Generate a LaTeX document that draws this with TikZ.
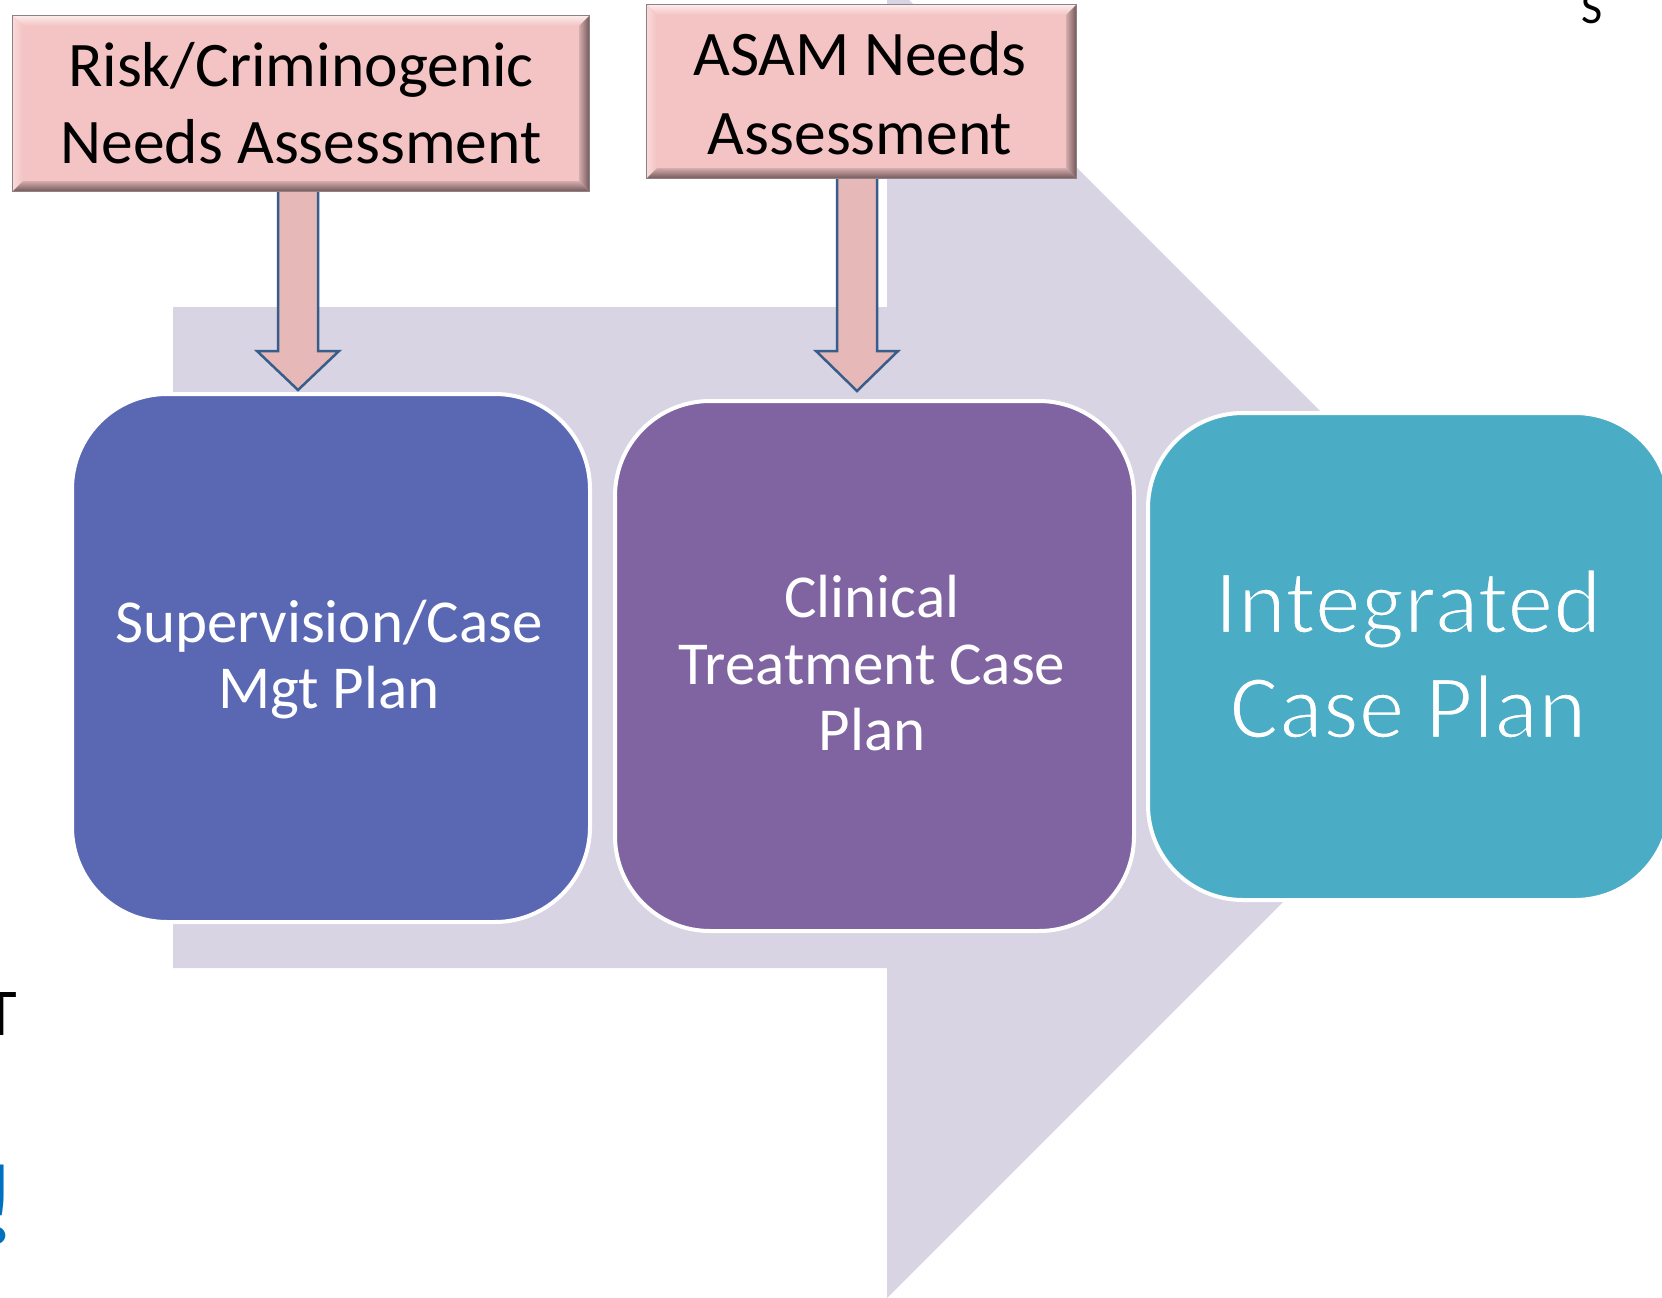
\documentclass[tikz,border=0pt]{standalone}
\usepackage{fontspec}
\setmainfont{Carlito}
\usetikzlibrary{calc}
\definecolor{lav}{HTML}{D8D4E3}
\definecolor{supblue}{HTML}{5A68B3}
\definecolor{clinpurple}{HTML}{8064A2}
\definecolor{intteal}{HTML}{4BACC6}
\definecolor{pkfill}{HTML}{F4C3C3}
\definecolor{pkhi}{HTML}{FDEBEB}
\definecolor{pkleft}{HTML}{F9D9D9}
\definecolor{pkdarkin}{HTML}{D2ABAC}
\definecolor{pkdarkout}{HTML}{76595B}
\definecolor{pkedge}{HTML}{8C8283}
\definecolor{arrfill}{HTML}{E6B9B8}
\definecolor{arrline}{HTML}{385D8A}
\definecolor{bang}{HTML}{0070C0}
\tikzset{
  planbox/.style={rounded corners=95pt, draw=white, line width=4pt, inner sep=0pt},
  pinkframe/.style={inner sep=0pt},
  lab/.style={anchor=base, inner sep=0pt, text=white},
  pinklab/.style={anchor=base, inner sep=0pt, text=black, font=\fontsize{63.5pt}{76pt}\selectfont},
  boxlab/.style={lab, font=\fontsize{61pt}{67pt}\selectfont},
  biglab/.style={lab, font=\fontsize{92pt}{104pt}\selectfont},
  arredge/.style={draw=arrline, line width=2.5pt, line join=miter},
}
% thinner glyphs (light weight look) by stroking the outline in the box colour
\newcommand\lighttext[1]{\special{pdf:literal direct 2 Tr 2.5 w 0.294 0.675 0.776 RG}#1\special{pdf:literal direct 0 Tr}}
\newcommand\bevelbox[1]{%
  \fill[pkfill] (#1.north west) rectangle (#1.south east);
  \shade[top color=pkhi, bottom color=pkfill] (#1.north west) -- (#1.north east) -- ([shift={(-10pt,-10pt)}]#1.north east) -- ([shift={(10pt,-10pt)}]#1.north west) -- cycle;
  \shade[left color=pkleft, right color=pkfill] (#1.north west) -- ([shift={(10pt,-10pt)}]#1.north west) -- ([shift={(10pt,10pt)}]#1.south west) -- (#1.south west) -- cycle;
  \shade[left color=pkdarkin, right color=pkdarkout] (#1.north east) -- (#1.south east) -- ([shift={(-10pt,10pt)}]#1.south east) -- ([shift={(-10pt,-10pt)}]#1.north east) -- cycle;
  \shade[top color=pkdarkin, bottom color=pkdarkout] (#1.south west) -- (#1.south east) -- ([shift={(-10pt,10pt)}]#1.south east) -- ([shift={(10pt,10pt)}]#1.south west) -- cycle;
  \draw[pkedge, line width=1pt] (#1.north west) rectangle (#1.south east);
}
\begin{document}
\begin{tikzpicture}[x=1pt,y=-1pt]
\useasboundingbox (0,0) rectangle (1662,1298);
\fill[white] (0,0) rectangle (1662,1298);
\clip (0,0) rectangle (1662,1298);
% background block arrow
\fill[lav] (173,307) -- (887,307) -- (887,-22) -- (1547,638) -- (887,1298) -- (887,968) -- (173,968) -- cycle;
% plan boxes
\node[planbox, fill=supblue, minimum width=518pt, minimum height=528pt] (sup) at (331,658) {};
\node[planbox, fill=clinpurple, minimum width=519pt, minimum height=530pt] (clin) at (874.5,666) {};
\node[planbox, fill=intteal, minimum width=522pt, minimum height=487pt] (int) at (1409,656.5) {};
% assessment boxes (frames)
\node[pinkframe, minimum width=576pt, minimum height=175pt] (risk) at (301,103.5) {};
\node[pinkframe, minimum width=429pt, minimum height=173pt] (asam) at (861.5,91.5) {};
% block arrows
\coordinate (a1s) at ([shift={(-3pt,2pt)}]risk.south);
\coordinate (a1t) at ($(a1s |- sup.north)+(0pt,2pt)$);
\fill[arrfill] ([xshift=-20pt]a1s) -- ([shift={(-20pt,39pt)}]a1t) -- ([shift={(-41pt,39pt)}]a1t) -- (a1t) -- ([shift={(41pt,39pt)}]a1t) -- ([shift={(20pt,39pt)}]a1t) -- ([xshift=20pt]a1s) -- cycle;
\draw[arredge] ([xshift=-20pt]a1s) -- ([shift={(-20pt,39pt)}]a1t) -- ([shift={(-41pt,39pt)}]a1t) -- (a1t) -- ([shift={(41pt,39pt)}]a1t) -- ([shift={(20pt,39pt)}]a1t) -- ([xshift=20pt]a1s);
\coordinate (a2s) at ([shift={(-4.5pt,2pt)}]asam.south);
\coordinate (a2t) at ($(a2s |- clin.north)+(0pt,8pt)$);
\fill[arrfill] ([xshift=-20pt]a2s) -- ([shift={(-20pt,40pt)}]a2t) -- ([shift={(-41pt,40pt)}]a2t) -- (a2t) -- ([shift={(41pt,40pt)}]a2t) -- ([shift={(20pt,40pt)}]a2t) -- ([xshift=20pt]a2s) -- cycle;
\draw[arredge] ([xshift=-20pt]a2s) -- ([shift={(-20pt,40pt)}]a2t) -- ([shift={(-41pt,40pt)}]a2t) -- (a2t) -- ([shift={(41pt,40pt)}]a2t) -- ([shift={(20pt,40pt)}]a2t) -- ([xshift=20pt]a2s);
% pink boxes drawn over shaft tops
\bevelbox{risk}
\bevelbox{asam}
% texts
\node[pinklab] (riskL1) at (301,86) {Risk/Criminogenic};
\node[pinklab] (riskL2) at (301,163) {Needs Assessment};
\node[pinklab] (asamL1) at (860,76) {ASAM Needs};
\node[pinklab] (asamL2) at (860,154) {Assessment};
\node[boxlab] (supL1) at (329,642) {Supervision/Case};
\node[boxlab] (supL2) at (329,708) {Mgt Plan};
\node[boxlab] (clinL1) at (872,617) {Clinical};
\node[boxlab] (clinL2) at (872,684) {Treatment Case};
\node[boxlab] (clinL3) at (872,750) {Plan};
\node[biglab] (intL1) at (1408,633) {\lighttext{Integrated}};
\node[biglab] (intL2) at (1408,738) {\lighttext{Case Plan}};
% partial glyphs at the edges
\node[anchor=base, inner sep=0pt, font=\fontsize{46pt}{50pt}\selectfont] (edgeS) at (1592,24) {S};
\node[anchor=base, inner sep=0pt, font=\fontsize{67pt}{80pt}\selectfont] (edgeT) at (1,1035) {T};
\node[anchor=base west, inner sep=0pt, text=bang, font=\bfseries\fontsize{115pt}{130pt}\selectfont] (edgeBang) at (-22,1243) {!};
\end{tikzpicture}
\end{document}
